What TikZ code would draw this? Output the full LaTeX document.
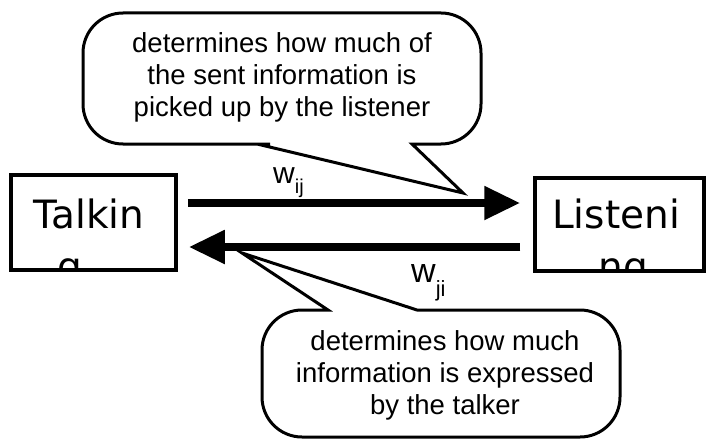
\documentclass[tikz,border=0pt]{standalone}
\usepackage{fontspec}
\setmainfont{Liberation Sans}
\newfontfamily\boxfont{DejaVu Sans}
\usetikzlibrary{arrows.meta}

\begin{document}
\begin{tikzpicture}[x=1pt,y=-1pt]
        \tikzset{state/.style={draw,line width=3.5pt,inner sep=0pt},
          statetext/.style={font=\boxfont\fontsize{39}{50}\selectfont,inner sep=0pt,anchor=base},
          flow/.style={line width=8pt,-{Triangle[length=36pt,width=32pt]}},
          weight/.style={font=\fontsize{30}{30}\selectfont,inner sep=0pt,anchor=base west},
          bubble/.style={draw,line width=3pt,fill=white,line join=miter},
          bubbletext/.style={font=\fontsize{27.5}{32}\selectfont,align=center,inner sep=0pt}}
          \path[fill=white,use as bounding box] (0,0) rectangle (706,441);
          \node[state,minimum width=165pt,minimum height=95pt] (talk) at (93.5,222.5) {};
          \node[state,minimum width=169pt,minimum height=93pt] (listen) at (619.5,224.5) {};
          \begin{scope}
            \clip (talk.south west) rectangle (talk.north east);
            \node[statetext] (talktop) at (89,228) {Talkin};
            \node[statetext] (talkbot) at (70,280) {g};
          \end{scope}
          \begin{scope}
            \clip (listen.south west) rectangle (listen.north east);
            \node[statetext] (listentop) at (616,228) {Listeni};
            \node[statetext] (listenbot) at (623.5,280) {ng};
          \end{scope}
          \draw[bubble] (430,144) [rounded corners=40pt] -- (481,144) -- (481,13) -- (83,13)
            -- (83,144) -- (230,144) [sharp corners] -- (257,144) -- (463,193) -- (412,144) -- cycle;
          \node[bubbletext] (note1) at (282,77.5)
            {determines how much of\\the sent information is\\picked up by the listener};
          \draw[bubble] (320,310) [rounded corners=40pt] -- (262,310) -- (262,437) -- (620,437)
            -- (620,310) -- (460,310) [sharp corners] -- (417,310) -- (242,253) -- (328,310) -- cycle;
          \node[bubbletext] (note2) at (445,375)
            {determines how much\\information is expressed\\by the talker};
          \draw[flow] ([xshift=10pt,yshift=19.5pt]talk.east) -- ([xshift=-13pt,yshift=21.5pt]listen.west);
          \draw[flow] ([xshift=-13pt,yshift=-22.5pt]listen.west) -- ([xshift=11pt,yshift=-24.5pt]talk.east);
          \node[weight] (wij) at (273,183) {w\raisebox{-10pt}{\fontsize{20}{20}\selectfont ij}};
          \node[weight,font=\fontsize{34}{34}\selectfont] (wji) at (411,282)
            {w\raisebox{-14pt}{\fontsize{22}{22}\selectfont ji}};
      \end{tikzpicture}
\end{document}
